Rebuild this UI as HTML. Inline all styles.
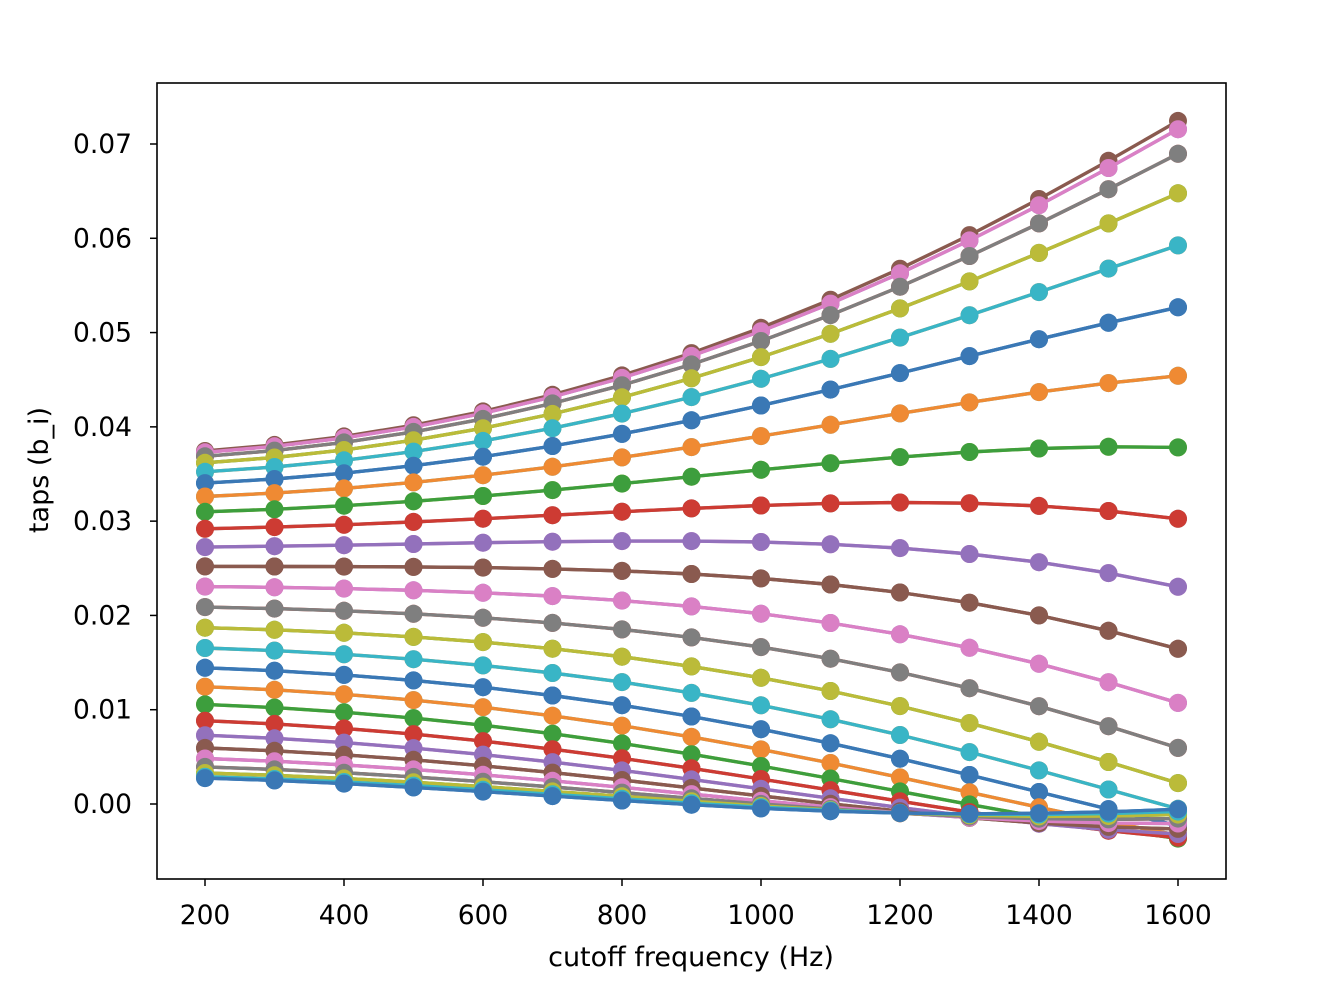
<!DOCTYPE html>
<html><head><meta charset="utf-8">
<style>
html,body{margin:0;padding:0;background:#fff;}
svg text{font-family:"DejaVu Sans","Liberation Sans",sans-serif;fill:#000;}
</style></head>
<body>
<svg id="s" width="1332" height="988" xmlns="http://www.w3.org/2000/svg">
<rect width="1332" height="988" fill="#fff"/>
<g id="plot"></g>
<rect x="157" y="83" width="1069" height="796" fill="none" stroke="#000" stroke-width="1.6"/>
<g id="ticks"></g>
<text x="691" y="966" font-size="27" text-anchor="middle">cutoff frequency (Hz)</text>
<text transform="translate(48,470) rotate(-90)" font-size="27" text-anchor="middle">taps (b_i)</text>
</svg>
<script>
const X=f=>205+(f-200)*(1178-205)/1400;
const Y=v=>804-v*(804-144)/0.07;
const cols=["#3a78b5","#ef8a33","#3d9e3d","#cd3b33","#9371bc","#8a5a4f","#da80c5","#7f7f7f","#bbbb39","#39b5c6"];
const N=51,fs=44100,M=(N-1)/2;
const freqs=[];for(let f=200;f<=1600;f+=100)freqs.push(f);
function firwin(fc){const c=2*fc/fs;const h=[];let s=0;
for(let n=0;n<N;n++){const m=n-M;const x=Math.PI*c*m;const sc=m===0?1:Math.sin(x)/x;
const w=0.54-0.46*Math.cos(2*Math.PI*n/(N-1));const v=c*sc*w;h.push(v);s+=v;}
return h.map(v=>v/s);}
const H=freqs.map(firwin);
let out="";
for(let n=0;n<N;n++){const col=cols[n%10];
const pts=freqs.map((f,i)=>X(f).toFixed(1)+","+Y(H[i][n]).toFixed(1)).join(" ");
out+=`<polyline points="${pts}" fill="none" stroke="${col}" stroke-width="3.4"/>`;
freqs.forEach((f,i)=>{out+=`<circle cx="${X(f).toFixed(1)}" cy="${Y(H[i][n]).toFixed(1)}" r="9" fill="${col}"/>`;});}
document.getElementById("plot").innerHTML=out;
let t="";
for(let f=200;f<=1600;f+=200){const x=X(f);t+=`<line x1="${x}" y1="879" x2="${x}" y2="886" stroke="#000" stroke-width="1.5"/><text x="${x}" y="924" font-size="26.5" text-anchor="middle">${f}</text>`;}
for(let k=0;k<=7;k++){const y=Y(k/100);t+=`<line x1="150" y1="${y}" x2="157" y2="${y}" stroke="#000" stroke-width="1.5"/><text x="132" y="${y+9}" font-size="26.5" text-anchor="end">${(k/100).toFixed(2)}</text>`;}
document.getElementById("ticks").innerHTML=t;
</script>
</body></html>
